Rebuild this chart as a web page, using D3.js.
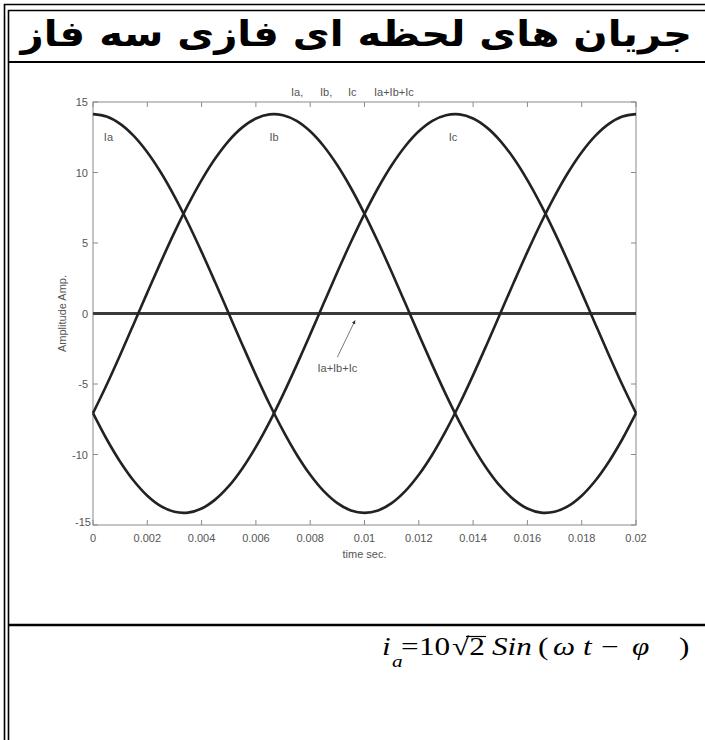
<!DOCTYPE html>
<html>
<head>
<meta charset="utf-8">
<script src="https://cdn.jsdelivr.net/npm/d3@7"></script>
<style>
  body { margin: 0; background: #fff; }
  svg { display: block; }
</style>
</head>
<body>
<div id="chart"></div>
<script>
const width = 705;
const height = 740;

// time samples (s) and the three phase currents
const times = [0, 0.0005, 0.001, 0.0015, 0.002, 0.0025, 0.003, 0.0035, 0.004, 0.0045,
               0.005, 0.0055, 0.006, 0.0065, 0.007, 0.0075, 0.008, 0.0085, 0.009, 0.0095,
               0.01, 0.0105, 0.011, 0.0115, 0.012, 0.0125, 0.013, 0.0135, 0.014, 0.0145,
               0.015, 0.0155, 0.016, 0.0165, 0.017, 0.0175, 0.018, 0.0185, 0.019, 0.0195, 0.02];
const ia = [14.14, 13.97, 13.45, 12.60, 11.44, 10.00, 8.31, 6.42, 4.37, 2.21,
            0, -2.21, -4.37, -6.42, -8.31, -10.00, -11.44, -12.60, -13.45, -13.97,
            -14.14, -13.97, -13.45, -12.60, -11.44, -10.00, -8.31, -6.42, -4.37, -2.21,
            0, 2.21, 4.37, 6.42, 8.31, 10.00, 11.44, 12.60, 13.45, 13.97, 14.14];
const ib = [-7.07, -5.07, -2.94, -0.74, 1.48, 3.66, 5.75, 7.70, 9.46, 10.99,
            12.25, 13.20, 13.83, 14.12, 14.06, 13.66, 12.92, 11.86, 10.51, 8.90,
            7.07, 5.07, 2.94, 0.74, -1.48, -3.66, -5.75, -7.70, -9.46, -10.99,
            -12.25, -13.20, -13.83, -14.12, -14.06, -13.66, -12.92, -11.86, -10.51, -8.90, -7.07];
const ic = [-7.07, -8.90, -10.51, -11.86, -12.92, -13.66, -14.06, -14.12, -13.83, -13.20,
            -12.25, -10.99, -9.46, -7.70, -5.75, -3.66, -1.48, 0.74, 2.94, 5.07,
            7.07, 8.90, 10.51, 11.86, 12.92, 13.66, 14.06, 14.12, 13.83, 13.20,
            12.25, 10.99, 9.46, 7.70, 5.75, 3.66, 1.48, -0.74, -2.94, -5.07, -7.07];
const isum = [0, 0, 0, 0, 0, 0, 0, 0, 0, 0, 0, 0, 0, 0, 0, 0, 0, 0, 0, 0, 0,
              0, 0, 0, 0, 0, 0, 0, 0, 0, 0, 0, 0, 0, 0, 0, 0, 0, 0, 0, 0];

const xTicks = [0, 0.002, 0.004, 0.006, 0.008, 0.01, 0.012, 0.014, 0.016, 0.018, 0.02];
const yTicks = [-15, -10, -5, 0, 5, 10, 15];

const titleText = "جریان های لحظه ای فازی  سه فاز";

const svg = d3.select("#chart")
    .append("svg")
    .attr("width", width)
    .attr("height", height);

// page frame (double border like the document table)
const frame = svg.append("g").attr("stroke", "black").attr("fill", "none");
frame.append("path").attr("d", "M4.5,745 V4.5 H710").attr("stroke-width", 1.6);
frame.append("path").attr("d", "M8.5,745 V10.5 H710").attr("stroke-width", 1.6);
frame.append("line").attr("x1", 8).attr("x2", 710).attr("y1", 62).attr("y2", 62).attr("stroke-width", 2);
frame.append("line").attr("x1", 8).attr("x2", 710).attr("y1", 625).attr("y2", 625).attr("stroke-width", 2.5);

// title, squeezed to the width it has in the document
const title = svg.append("text")
    .attr("x", 0).attr("y", 0)
    .attr("direction", "rtl")
    .attr("text-anchor", "start")
    .style("font-family", "'DejaVu Sans', sans-serif")
    .style("font-weight", "bold")
    .style("font-size", "35px")
    .text(titleText);
const tb = title.node().getBBox();
const sx = 674 / tb.width;
title.attr("transform", `translate(${692 - (tb.x + tb.width) * sx},46) scale(${sx},1)`);

// plot area
const margin = { left: 93, right: 636, top: 102, bottom: 525 };
const x = d3.scaleLinear().domain([0, 0.02]).range([margin.left, margin.right]);
const y = d3.scaleLinear().domain([-15, 15]).range([margin.bottom, margin.top]);

const axisColor = "#8a8a8a";
const labelColor = "#555";
const smallFont = "Arial, 'Liberation Sans', sans-serif";

function smallText(sel) {
    return sel.style("font-family", smallFont)
        .style("font-size", "11px")
        .style("fill", labelColor);
}

svg.append("rect")
    .attr("x", margin.left).attr("y", margin.top)
    .attr("width", margin.right - margin.left)
    .attr("height", margin.bottom - margin.top)
    .attr("fill", "none")
    .attr("stroke", axisColor);

// inward ticks on all four sides
const tickLen = 5;
const ticks = svg.append("g").attr("stroke", axisColor);
xTicks.forEach(t => {
    ticks.append("line").attr("x1", x(t)).attr("x2", x(t)).attr("y1", margin.bottom).attr("y2", margin.bottom - tickLen);
    ticks.append("line").attr("x1", x(t)).attr("x2", x(t)).attr("y1", margin.top).attr("y2", margin.top + tickLen);
});
yTicks.forEach(v => {
    ticks.append("line").attr("x1", margin.left).attr("x2", margin.left + tickLen).attr("y1", y(v)).attr("y2", y(v));
    ticks.append("line").attr("x1", margin.right).attr("x2", margin.right - tickLen).attr("y1", y(v)).attr("y2", y(v));
});

svg.append("g").selectAll("text")
    .data(xTicks)
    .join("text")
    .attr("x", d => x(d))
    .attr("y", margin.bottom + 17)
    .attr("text-anchor", "middle")
    .call(smallText)
    .text(d => d3.format("")(d));

svg.append("g").selectAll("text")
    .data(yTicks)
    .join("text")
    .attr("x", d => d === -15 ? margin.left - 2 : margin.left - 5)
    .attr("y", d => d === -15 ? y(d) + 1 : y(d) + 4)
    .attr("text-anchor", "end")
    .call(smallText)
    .text(d => d);

// curves
const line = d3.line()
    .x((d, i) => x(times[i]))
    .y(d => y(d))
    .curve(d3.curveCatmullRom);

svg.append("path")
    .attr("d", line(isum))
    .attr("fill", "none")
    .attr("stroke", "#3a3a3a")
    .attr("stroke-width", 3);

[ia, ib, ic].forEach(series => {
    svg.append("path")
        .attr("d", line(series))
        .attr("fill", "none")
        .attr("stroke", "#222")
        .attr("stroke-width", 2.6);
});

// series labels
const labels = [
    { text: "Ia", t: 0.0004, v: 12.2 },
    { text: "Ib", t: 0.0065, v: 12.2 },
    { text: "Ic", t: 0.0131, v: 12.2 }
];
svg.append("g").selectAll("text")
    .data(labels)
    .join("text")
    .attr("x", d => x(d.t))
    .attr("y", d => y(d.v))
    .call(smallText)
    .text(d => d.text);

// plot title
const heads = [
    { text: "Ia,", x: 291 },
    { text: "Ib,", x: 320 },
    { text: "Ic", x: 348 },
    { text: "Ia+Ib+Ic", x: 374 }
];
svg.append("g").selectAll("text")
    .data(heads)
    .join("text")
    .attr("x", d => d.x)
    .attr("y", 96)
    .call(smallText)
    .text(d => d.text);

// axis labels
svg.append("text")
    .attr("x", x(0.01))
    .attr("y", 558)
    .attr("text-anchor", "middle")
    .call(smallText)
    .text("time sec.");

svg.append("text")
    .attr("transform", `translate(66,${y(0)}) rotate(-90)`)
    .attr("text-anchor", "middle")
    .call(smallText)
    .text("Amplitude Amp.");

// annotation arrow for the sum
svg.append("defs").append("marker")
    .attr("id", "arrow")
    .attr("viewBox", "0 0 10 10")
    .attr("refX", 9).attr("refY", 5)
    .attr("markerWidth", 5).attr("markerHeight", 5)
    .attr("orient", "auto")
    .append("path")
    .attr("d", "M0,0 L10,5 L0,10 z")
    .attr("fill", "#333");

svg.append("line")
    .attr("x1", x(0.009)).attr("y1", y(-3.1))
    .attr("x2", x(0.00965)).attr("y2", y(-0.5))
    .attr("stroke", "#555")
    .attr("stroke-width", 0.8)
    .attr("marker-end", "url(#arrow)");

svg.append("text")
    .attr("x", x(0.009))
    .attr("y", y(-4.15))
    .attr("text-anchor", "middle")
    .call(smallText)
    .text("Ia+Ib+Ic");

// formula, laid out token by token and stretched like the equation editor
const fx = 382, fy = 655, fs = 1.25;
const formula = svg.append("g")
    .attr("transform", `translate(${fx},${fy}) scale(${fs},1)`)
    .style("font-family", "'Liberation Serif', 'Times New Roman', serif")
    .style("font-size", "25px");
const tokens = [
    { t: "i", at: 382, italic: true },
    { t: "a", at: 392, italic: true, sub: true },
    { t: "=", at: 401 },
    { t: "10", at: 419 },
    { t: "√2", at: 452 },
    { t: "Sin", at: 492, italic: true },
    { t: "(", at: 538 },
    { t: "ω", at: 553, italic: true },
    { t: "t", at: 583, italic: true },
    { t: "−", at: 601 },
    { t: "φ", at: 632, italic: true },
    { t: ")", at: 679 }
];
formula.selectAll("text")
    .data(tokens)
    .join("text")
    .attr("x", d => (d.at - fx) / fs)
    .attr("y", d => d.sub ? 12 : 0)
    .style("font-style", d => d.italic ? "italic" : "normal")
    .style("font-size", d => d.sub ? "17px" : null)
    .text(d => d.t);
// radical bar over the 2
formula.append("line")
    .attr("x1", (466 - fx) / fs).attr("x2", (486 - fx) / fs)
    .attr("y1", -18.5).attr("y2", -18.5)
    .attr("stroke", "black")
    .attr("stroke-width", 1.2);
</script>
</body>
</html>
